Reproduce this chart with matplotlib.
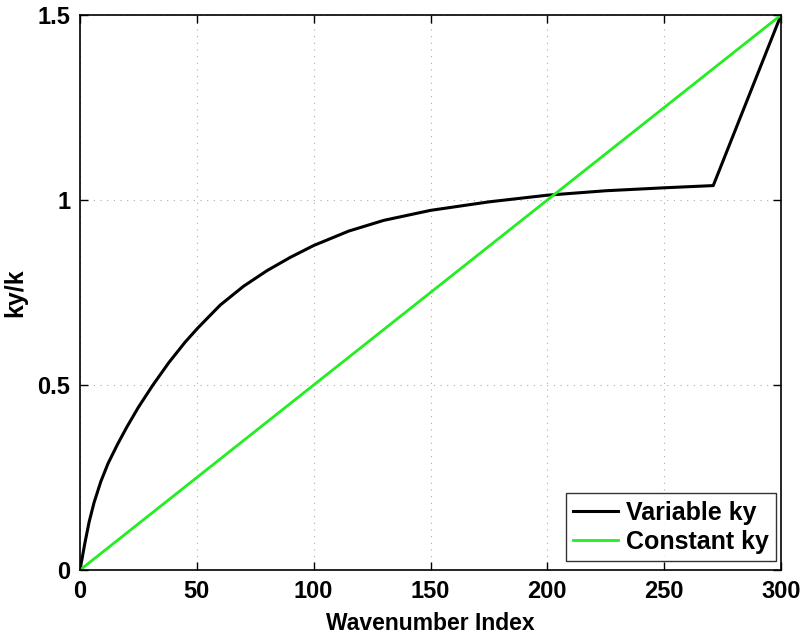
import matplotlib
matplotlib.use("Agg")
import matplotlib.pyplot as plt

# ---- data ----
index_variable = [0, 2, 3.9, 6, 8.9, 12, 16, 20, 25, 31.2, 38, 45, 50.4, 60,
                  70, 80, 90, 100, 115, 130, 150, 175, 200, 225, 250, 271, 300]
ratio_variable = [0.0, 0.07, 0.13, 0.182, 0.239, 0.288, 0.339, 0.386, 0.44,
                  0.5, 0.5605, 0.616, 0.654, 0.716, 0.767, 0.809, 0.845, 0.877,
                  0.916, 0.945, 0.972, 0.995, 1.013, 1.025, 1.033, 1.039, 1.5]
index_constant = [0, 300]
ratio_constant = [0.0, 1.5]

x_ticks = [0, 50, 100, 150, 200, 250, 300]
y_ticks = [0, 0.5, 1, 1.5]
y_tick_labels = ["0", "0.5", "1", "1.5"]

plt.rcParams["font.family"] = ["Liberation Sans", "DejaVu Sans"]

fig = plt.figure(figsize=(8.05, 6.39), dpi=100)
ax = fig.add_axes([0.0994, 0.108, 0.8708, 0.8685])

ax.plot(index_variable, ratio_variable, color="black", lw=2.2,
        solid_joinstyle="round", label="Variable ky")
ax.plot(index_constant, ratio_constant, color="#22ee22", lw=2.0, label="Constant ky")

ax.set_xlim(0, 300)
ax.set_ylim(0, 1.5)
ax.set_xticks(x_ticks)
ax.set_yticks(y_ticks)
ax.set_yticklabels(y_tick_labels)
ax.grid(True, linestyle=(0, (1, 5)), color="#aaaaaa", lw=0.8)
ax.tick_params(direction="in", top=True, right=True, length=6, width=1,
               labelsize=17, pad=7)
for lab in ax.get_xticklabels() + ax.get_yticklabels():
    lab.set_fontweight("bold")
for sp in ax.spines.values():
    sp.set_linewidth(1.2)

ax.set_xlabel("Wavenumber Index", fontsize=16.5, fontweight="bold", labelpad=7)
ax.set_ylabel("ky/k", fontsize=18, fontweight="bold", labelpad=7)

leg = ax.legend(loc="lower right", bbox_to_anchor=(0.993, 0.016), fontsize=18,
                frameon=True, fancybox=False, edgecolor="black", borderaxespad=0,
                handlelength=1.8, handletextpad=0.3, labelspacing=0.2,
                borderpad=0.3)
leg.get_frame().set_linewidth(1.0)
for t in leg.get_texts():
    t.set_fontweight("bold")

fig.savefig("out.png", dpi=100)
